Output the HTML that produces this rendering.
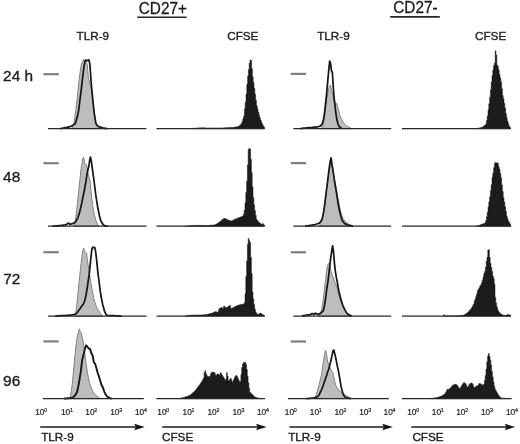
<!DOCTYPE html>
<html><head><meta charset="utf-8"><title>CD27 TLR-9 CFSE</title>
<style>
html,body{margin:0;padding:0;background:#fff;}
body{width:520px;height:444px;overflow:hidden;}
svg{display:block;font-family:"Liberation Sans",sans-serif;}
</style></head><body>
<svg width="520" height="444" viewBox="0 0 520 444">
<defs><filter id="bl" x="-5%" y="-5%" width="110%" height="110%"><feGaussianBlur stdDeviation="0.35"/></filter></defs>
<rect width="520" height="444" fill="#ffffff"/>
<g filter="url(#bl)">
<g>
<path d="M72.0 128.6 L72.9 126.6 L73.8 123.8 L74.7 118.2 L75.6 111.8 L76.5 104.4 L77.4 96.5 L78.3 87.8 L79.2 79.2 L80.1 72.3 L81.0 66.2 L81.9 63.0 L82.8 61.8 L83.7 59.2 L84.6 61.2 L85.5 59.0 L86.4 62.9 L87.3 64.5 L88.2 76.1 L89.1 81.1 L90.0 84.4 L90.9 85.9 L91.8 89.4 L92.7 98.7 L93.6 107.1 L94.5 114.7 L95.4 120.7 L96.3 124.8 L97.2 127.0 L98.1 128.0 L99.0 128.6 L99.0 128.6 Z" fill="#bdbdbd" stroke="#808080" stroke-width="1" stroke-linejoin="round"/>
<path d="M60.0 128.6 L60.9 128.5 L61.8 128.3 L62.7 128.2 L63.6 128.1 L64.5 127.9 L65.4 127.7 L66.3 127.5 L67.2 127.3 L68.1 127.1 L69.0 126.9 L69.9 126.7 L70.8 126.4 L71.7 125.9 L72.6 125.4 L73.5 124.8 L74.4 124.2 L75.3 123.8 L76.2 120.7 L77.1 117.5 L78.0 114.1 L78.9 108.5 L79.8 101.2 L80.7 94.1 L81.6 86.6 L82.5 78.6 L83.4 71.0 L84.3 64.5 L85.2 60.9 L86.1 60.6 L87.0 60.3 L87.9 60.7 L88.8 59.8 L89.7 63.0 L90.6 74.3 L91.5 86.7 L92.4 95.7 L93.3 104.5 L94.2 113.1 L95.1 118.6 L96.0 123.8 L96.9 124.8 L97.8 125.8 L98.7 126.6 L99.6 126.9 L100.5 127.2 L101.4 127.4 L102.3 127.7 L103.2 128.0 L104.1 128.1 L105.0 128.3 L105.9 128.4 L106.8 128.6 L107.0 128.6" fill="none" stroke="#121212" stroke-width="1.7" stroke-linejoin="round"/>
<line x1="48.0" y1="128.6" x2="146.4" y2="128.6" stroke="#262626" stroke-width="1.25"/>
<line x1="43.4" y1="74.2" x2="58.8" y2="74.2" stroke="#7e7e7e" stroke-width="2.2"/>
<path d="M190.0 128.6 L190.8 128.6 L190.8 128.5 L191.6 128.5 L191.6 128.5 L192.4 128.5 L192.4 128.4 L193.2 128.4 L193.2 128.3 L194.0 128.3 L194.0 128.3 L194.8 128.3 L194.8 128.2 L195.6 128.2 L195.6 128.2 L196.4 128.2 L196.4 128.1 L197.2 128.1 L197.2 128.0 L198.0 128.0 L198.0 128.0 L198.8 128.0 L198.8 127.9 L199.6 127.9 L199.6 127.8 L200.4 127.8 L200.4 127.8 L201.2 127.8 L201.2 127.8 L202.0 127.8 L202.0 127.8 L202.8 127.8 L202.8 127.8 L203.6 127.8 L203.6 127.8 L204.4 127.8 L204.4 127.8 L205.2 127.8 L205.2 127.9 L206.0 127.9 L206.0 127.9 L206.8 127.9 L206.8 127.9 L207.6 127.9 L207.6 127.9 L208.4 127.9 L208.4 127.9 L209.2 127.9 L209.2 127.9 L210.0 127.9 L210.0 127.9 L210.8 127.9 L210.8 127.9 L211.6 127.9 L211.6 127.9 L212.4 127.9 L212.4 127.9 L213.2 127.9 L213.2 127.9 L214.0 127.9 L214.0 127.9 L214.8 127.9 L214.8 127.9 L215.6 127.9 L215.6 127.9 L216.4 127.9 L216.4 128.0 L217.2 128.0 L217.2 128.0 L218.0 128.0 L218.0 128.0 L218.8 128.0 L218.8 128.0 L219.6 128.0 L219.6 128.0 L220.4 128.0 L220.4 128.0 L221.2 128.0 L221.2 127.9 L222.0 127.9 L222.0 127.9 L222.8 127.9 L222.8 127.9 L223.6 127.9 L223.6 127.8 L224.4 127.8 L224.4 127.8 L225.2 127.8 L225.2 127.7 L226.0 127.7 L226.0 127.7 L226.8 127.7 L226.8 127.7 L227.6 127.7 L227.6 127.6 L228.4 127.6 L228.4 127.6 L229.2 127.6 L229.2 127.5 L230.0 127.5 L230.0 127.5 L230.8 127.5 L230.8 127.5 L231.6 127.5 L231.6 127.4 L232.4 127.4 L232.4 127.4 L233.2 127.4 L233.2 127.3 L234.0 127.3 L234.0 127.2 L234.8 127.2 L234.8 127.1 L235.6 127.1 L235.6 127.0 L236.4 127.0 L236.4 126.9 L237.2 126.9 L237.2 126.7 L238.0 126.7 L238.0 126.4 L238.8 126.4 L238.8 126.1 L239.6 126.1 L239.6 125.5 L240.4 125.5 L240.4 124.4 L241.2 124.4 L241.2 123.4 L242.0 123.4 L242.0 121.5 L242.8 121.5 L242.8 118.8 L243.6 118.8 L243.6 116.0 L244.4 116.0 L244.4 108.8 L245.2 108.8 L245.2 102.2 L246.0 102.2 L246.0 94.1 L246.8 94.1 L246.8 84.3 L247.6 84.3 L247.6 76.1 L248.4 76.1 L248.4 69.5 L249.2 69.5 L249.2 63.1 L250.0 63.1 L250.0 60.0 L250.8 60.0 L250.8 60.4 L251.6 60.4 L251.6 68.8 L252.4 68.8 L252.4 76.7 L253.2 76.7 L253.2 82.5 L254.0 82.5 L254.0 88.3 L254.8 88.3 L254.8 94.0 L255.6 94.0 L255.6 100.2 L256.4 100.2 L256.4 105.4 L257.2 105.4 L257.2 108.7 L258.0 108.7 L258.0 112.0 L258.8 112.0 L258.8 115.0 L259.6 115.0 L259.6 117.8 L260.4 117.8 L260.4 120.0 L261.2 120.0 L261.2 122.3 L262.0 122.3 L262.0 124.1 L262.8 124.1 L262.8 125.7 L263.6 125.7 L263.6 127.0 L264.4 127.0 L264.5 128.6 Z" fill="#1a1a1a" stroke="#1a1a1a" stroke-width="0.5" stroke-linejoin="miter"/>
<line x1="156.5" y1="128.6" x2="264.7" y2="128.6" stroke="#262626" stroke-width="1.25"/>
<path d="M321.3 128.6 L322.2 126.4 L323.1 124.2 L324.0 119.4 L324.9 114.0 L325.8 106.6 L326.7 98.9 L327.6 94.5 L328.5 89.5 L329.4 86.5 L330.3 85.0 L331.2 88.5 L332.1 92.3 L333.0 96.4 L333.9 101.0 L334.8 101.5 L335.7 102.9 L336.6 103.4 L337.5 106.7 L338.4 109.3 L339.3 113.2 L340.2 116.2 L341.1 118.1 L342.0 119.9 L342.9 121.9 L343.8 122.9 L344.7 123.7 L345.6 124.7 L346.5 125.5 L347.4 126.2 L348.3 126.7 L349.2 127.2 L350.1 127.8 L351.0 128.3 L351.5 128.6 Z" fill="#bdbdbd" stroke="#808080" stroke-width="1" stroke-linejoin="round"/>
<path d="M300.0 128.6 L300.9 128.5 L301.8 128.4 L302.7 128.3 L303.6 128.2 L304.5 128.1 L305.4 128.0 L306.3 127.9 L307.2 127.8 L308.1 127.8 L309.0 127.7 L309.9 127.6 L310.8 127.6 L311.7 127.5 L312.6 127.4 L313.5 127.3 L314.4 127.2 L315.3 127.1 L316.2 127.0 L317.1 126.9 L318.0 126.8 L318.9 126.5 L319.8 126.1 L320.7 125.7 L321.6 124.6 L322.5 123.2 L323.4 119.6 L324.3 115.0 L325.2 106.9 L326.1 99.1 L327.0 89.3 L327.9 79.4 L328.8 69.7 L329.7 61.1 L330.6 63.8 L331.5 71.0 L332.4 72.7 L333.3 87.7 L334.2 98.7 L335.1 106.7 L336.0 114.3 L336.9 119.5 L337.8 123.3 L338.7 125.7 L339.6 126.9 L340.5 127.6 L341.4 128.2 L342.0 128.6" fill="none" stroke="#121212" stroke-width="1.7" stroke-linejoin="round"/>
<line x1="293.4" y1="128.6" x2="391.2" y2="128.6" stroke="#262626" stroke-width="1.25"/>
<line x1="290.8" y1="73.9" x2="306.0" y2="73.9" stroke="#7e7e7e" stroke-width="2.2"/>
<path d="M476.0 128.6 L476.8 128.6 L476.8 128.4 L477.6 128.4 L477.6 128.3 L478.4 128.3 L478.4 128.1 L479.2 128.1 L479.2 128.0 L480.0 128.0 L480.0 127.8 L480.8 127.8 L480.8 127.5 L481.6 127.5 L481.6 127.3 L482.4 127.3 L482.4 127.0 L483.2 127.0 L483.2 126.6 L484.0 126.6 L484.0 125.8 L484.8 125.8 L484.8 125.0 L485.6 125.0 L485.6 124.2 L486.4 124.2 L486.4 120.5 L487.2 120.5 L487.2 115.9 L488.0 115.9 L488.0 109.9 L488.8 109.9 L488.8 103.8 L489.6 103.8 L489.6 97.3 L490.4 97.3 L490.4 89.7 L491.2 89.7 L491.2 82.1 L492.0 82.1 L492.0 75.4 L492.8 75.4 L492.8 70.1 L493.6 70.1 L493.6 65.4 L494.4 65.4 L494.4 63.2 L495.2 63.2 L495.2 50.9 L496.0 50.9 L496.0 55.0 L496.8 55.0 L496.8 65.1 L497.6 65.1 L497.6 66.4 L498.4 66.4 L498.4 70.0 L499.2 70.0 L499.2 74.5 L500.0 74.5 L500.0 78.1 L500.8 78.1 L500.8 81.9 L501.6 81.9 L501.6 88.8 L502.4 88.8 L502.4 95.5 L503.2 95.5 L503.2 98.8 L504.0 98.8 L504.0 103.3 L504.8 103.3 L504.8 108.0 L505.6 108.0 L505.6 113.4 L506.4 113.4 L506.4 117.7 L507.2 117.7 L507.2 121.1 L508.0 121.1 L508.0 123.6 L508.8 123.6 L508.8 125.9 L509.6 125.9 L509.6 127.3 L510.4 127.3 L510.5 128.6 Z" fill="#1a1a1a" stroke="#1a1a1a" stroke-width="0.5" stroke-linejoin="miter"/>
<line x1="402.0" y1="128.6" x2="511.0" y2="128.6" stroke="#262626" stroke-width="1.25"/>
<path d="M73.8 226.2 L74.7 223.0 L75.6 218.8 L76.5 212.1 L77.4 203.6 L78.3 195.0 L79.2 186.0 L80.1 177.8 L81.0 169.9 L81.9 163.6 L82.8 159.1 L83.7 157.1 L84.6 163.6 L85.5 164.1 L86.4 164.3 L87.3 168.5 L88.2 174.1 L89.1 177.3 L90.0 180.0 L90.9 189.7 L91.8 198.3 L92.7 205.2 L93.6 211.2 L94.5 215.5 L95.4 219.0 L96.3 221.6 L97.2 223.8 L98.1 225.0 L99.0 226.2 L99.0 226.2 Z" fill="#bdbdbd" stroke="#808080" stroke-width="1" stroke-linejoin="round"/>
<path d="M52.7 226.2 L53.6 226.1 L54.5 226.1 L55.4 226.0 L56.3 225.9 L57.2 225.8 L58.1 225.8 L59.0 225.7 L59.9 225.6 L60.8 225.5 L61.7 225.4 L62.6 225.3 L63.5 225.1 L64.4 225.0 L65.3 224.9 L66.2 224.6 L67.1 224.0 L68.0 223.2 L68.9 223.3 L69.8 224.3 L70.7 224.1 L71.6 223.8 L72.5 223.6 L73.4 223.2 L74.3 222.7 L75.2 222.2 L76.1 221.0 L77.0 219.4 L77.9 217.5 L78.8 214.9 L79.7 212.0 L80.6 208.1 L81.5 204.3 L82.4 199.8 L83.3 195.2 L84.2 191.1 L85.1 186.0 L86.0 181.2 L86.9 175.0 L87.8 170.0 L88.7 167.0 L89.6 160.8 L90.5 157.0 L91.4 161.6 L92.3 168.4 L93.2 174.8 L94.1 181.3 L95.0 188.8 L95.9 195.8 L96.8 201.7 L97.7 207.0 L98.6 211.8 L99.5 216.0 L100.4 219.6 L101.3 221.6 L102.2 223.4 L103.1 224.5 L104.0 225.2 L104.9 225.7 L105.8 225.8 L106.7 226.0 L107.6 226.1 L108.0 226.2" fill="none" stroke="#121212" stroke-width="1.7" stroke-linejoin="round"/>
<line x1="48.0" y1="226.2" x2="146.4" y2="226.2" stroke="#262626" stroke-width="1.25"/>
<line x1="43.4" y1="163.2" x2="58.8" y2="163.2" stroke="#7e7e7e" stroke-width="2.2"/>
<path d="M185.0 226.2 L185.8 226.2 L185.8 226.1 L186.6 226.1 L186.6 226.1 L187.4 226.1 L187.4 226.0 L188.2 226.0 L188.2 225.9 L189.0 225.9 L189.0 225.9 L189.8 225.9 L189.8 225.8 L190.6 225.8 L190.6 225.8 L191.4 225.8 L191.4 225.7 L192.2 225.7 L192.2 225.6 L193.0 225.6 L193.0 225.6 L193.8 225.6 L193.8 225.5 L194.6 225.5 L194.6 225.4 L195.4 225.4 L195.4 225.4 L196.2 225.4 L196.2 225.4 L197.0 225.4 L197.0 225.4 L197.8 225.4 L197.8 225.4 L198.6 225.4 L198.6 225.4 L199.4 225.4 L199.4 225.4 L200.2 225.4 L200.2 225.4 L201.0 225.4 L201.0 225.5 L201.8 225.5 L201.8 225.4 L202.6 225.4 L202.6 225.4 L203.4 225.4 L203.4 225.5 L204.2 225.5 L204.2 225.5 L205.0 225.5 L205.0 225.5 L205.8 225.5 L205.8 225.5 L206.6 225.5 L206.6 225.5 L207.4 225.5 L207.4 225.5 L208.2 225.5 L208.2 225.5 L209.0 225.5 L209.0 225.4 L209.8 225.4 L209.8 225.3 L210.6 225.3 L210.6 225.2 L211.4 225.2 L211.4 225.2 L212.2 225.2 L212.2 225.1 L213.0 225.1 L213.0 225.0 L213.8 225.0 L213.8 224.9 L214.6 224.9 L214.6 224.7 L215.4 224.7 L215.4 224.5 L216.2 224.5 L216.2 224.1 L217.0 224.1 L217.0 223.5 L217.8 223.5 L217.8 223.0 L218.6 223.0 L218.6 222.5 L219.4 222.5 L219.4 222.0 L220.2 222.0 L220.2 221.2 L221.0 221.2 L221.0 220.6 L221.8 220.6 L221.8 219.7 L222.6 219.7 L222.6 219.2 L223.4 219.2 L223.4 218.7 L224.2 218.7 L224.2 218.6 L225.0 218.6 L225.0 218.5 L225.8 218.5 L225.8 219.0 L226.6 219.0 L226.6 219.4 L227.4 219.4 L227.4 219.9 L228.2 219.9 L228.2 220.2 L229.0 220.2 L229.0 220.5 L229.8 220.5 L229.8 220.6 L230.6 220.6 L230.6 221.1 L231.4 221.1 L231.4 221.1 L232.2 221.1 L232.2 220.6 L233.0 220.6 L233.0 220.2 L233.8 220.2 L233.8 219.7 L234.6 219.7 L234.6 219.2 L235.4 219.2 L235.4 219.1 L236.2 219.1 L236.2 218.4 L237.0 218.4 L237.0 218.4 L237.8 218.4 L237.8 217.9 L238.6 217.9 L238.6 217.6 L239.4 217.6 L239.4 217.4 L240.2 217.4 L240.2 217.1 L241.0 217.1 L241.0 216.8 L241.8 216.8 L241.8 216.5 L242.6 216.5 L242.6 215.9 L243.4 215.9 L243.4 213.9 L244.2 213.9 L244.2 210.1 L245.0 210.1 L245.0 202.7 L245.8 202.7 L245.8 192.6 L246.6 192.6 L246.6 181.2 L247.4 181.2 L247.4 164.9 L248.2 164.9 L248.2 149.6 L249.0 149.6 L249.0 148.4 L249.8 148.4 L249.8 149.1 L250.6 149.1 L250.6 159.5 L251.4 159.5 L251.4 172.6 L252.2 172.6 L252.2 187.1 L253.0 187.1 L253.0 197.5 L253.8 197.5 L253.8 204.8 L254.6 204.8 L254.6 210.4 L255.4 210.4 L255.4 215.2 L256.2 215.2 L256.2 219.3 L257.0 219.3 L257.0 220.5 L257.8 220.5 L257.8 221.5 L258.6 221.5 L258.6 222.4 L259.4 222.4 L259.4 223.1 L260.2 223.1 L260.2 223.8 L261.0 223.8 L261.0 224.5 L261.8 224.5 L261.8 223.8 L262.6 223.8 L262.6 223.8 L263.4 223.8 L263.4 224.7 L264.2 224.7 L264.7 226.2 Z" fill="#1a1a1a" stroke="#1a1a1a" stroke-width="0.5" stroke-linejoin="miter"/>
<line x1="156.5" y1="226.2" x2="264.7" y2="226.2" stroke="#262626" stroke-width="1.25"/>
<path d="M319.0 226.2 L319.9 224.7 L320.8 223.2 L321.7 221.2 L322.6 217.6 L323.5 214.1 L324.4 207.2 L325.3 199.7 L326.2 193.3 L327.1 186.5 L328.0 178.9 L328.9 171.8 L329.8 168.9 L330.7 163.7 L331.6 164.8 L332.5 169.2 L333.4 173.5 L334.3 178.9 L335.2 182.3 L336.1 187.5 L337.0 192.7 L337.9 198.1 L338.8 202.7 L339.7 207.3 L340.6 210.9 L341.5 214.2 L342.4 217.1 L343.3 218.6 L344.2 219.9 L345.1 221.4 L346.0 222.3 L346.9 222.9 L347.8 223.4 L348.7 224.0 L349.6 224.6 L350.5 225.0 L351.4 225.4 L352.3 225.9 L353.0 226.2 Z" fill="#bdbdbd" stroke="#808080" stroke-width="1" stroke-linejoin="round"/>
<path d="M305.0 226.2 L305.9 226.1 L306.8 225.9 L307.7 225.8 L308.6 225.7 L309.5 225.6 L310.4 225.4 L311.3 225.3 L312.2 225.1 L313.1 224.9 L314.0 224.8 L314.9 224.6 L315.8 224.3 L316.7 224.0 L317.6 223.7 L318.5 223.3 L319.4 223.1 L320.3 221.9 L321.2 220.6 L322.1 219.3 L323.0 215.1 L323.9 210.1 L324.8 203.8 L325.7 196.1 L326.6 188.9 L327.5 182.2 L328.4 174.7 L329.3 167.7 L330.2 161.2 L331.1 157.9 L332.0 164.4 L332.9 169.6 L333.8 176.0 L334.7 182.5 L335.6 187.7 L336.5 192.9 L337.4 198.8 L338.3 204.6 L339.2 209.1 L340.1 213.3 L341.0 216.6 L341.9 219.7 L342.8 221.2 L343.7 222.4 L344.6 223.6 L345.5 223.9 L346.4 224.3 L347.3 224.7 L348.2 225.1 L349.1 225.3 L350.0 225.5 L350.9 225.7 L351.8 225.9 L352.7 226.1 L353.0 226.2" fill="none" stroke="#121212" stroke-width="1.7" stroke-linejoin="round"/>
<line x1="293.4" y1="226.2" x2="391.2" y2="226.2" stroke="#262626" stroke-width="1.25"/>
<line x1="290.8" y1="163.1" x2="306.0" y2="163.1" stroke="#7e7e7e" stroke-width="2.2"/>
<path d="M476.0 226.2 L476.8 226.2 L476.8 226.0 L477.6 226.0 L477.6 225.8 L478.4 225.8 L478.4 225.6 L479.2 225.6 L479.2 225.3 L480.0 225.3 L480.0 224.9 L480.8 224.9 L480.8 224.5 L481.6 224.5 L481.6 224.2 L482.4 224.2 L482.4 223.9 L483.2 223.9 L483.2 223.7 L484.0 223.7 L484.0 223.4 L484.8 223.4 L484.8 223.0 L485.6 223.0 L485.6 220.8 L486.4 220.8 L486.4 216.8 L487.2 216.8 L487.2 212.3 L488.0 212.3 L488.0 207.0 L488.8 207.0 L488.8 201.9 L489.6 201.9 L489.6 196.9 L490.4 196.9 L490.4 190.5 L491.2 190.5 L491.2 184.7 L492.0 184.7 L492.0 177.4 L492.8 177.4 L492.8 173.0 L493.6 173.0 L493.6 167.8 L494.4 167.8 L494.4 163.6 L495.2 163.6 L495.2 162.5 L496.0 162.5 L496.0 162.8 L496.8 162.8 L496.8 163.0 L497.6 163.0 L497.6 163.2 L498.4 163.2 L498.4 166.7 L499.2 166.7 L499.2 169.3 L500.0 169.3 L500.0 173.2 L500.8 173.2 L500.8 177.8 L501.6 177.8 L501.6 184.9 L502.4 184.9 L502.4 191.5 L503.2 191.5 L503.2 197.7 L504.0 197.7 L504.0 202.0 L504.8 202.0 L504.8 206.7 L505.6 206.7 L505.6 211.2 L506.4 211.2 L506.4 215.9 L507.2 215.9 L507.2 218.5 L508.0 218.5 L508.0 221.0 L508.8 221.0 L508.8 222.3 L509.6 222.3 L509.6 223.8 L510.4 223.8 L511.0 226.2 Z" fill="#1a1a1a" stroke="#1a1a1a" stroke-width="0.5" stroke-linejoin="miter"/>
<line x1="402.0" y1="226.2" x2="511.0" y2="226.2" stroke="#262626" stroke-width="1.25"/>
<path d="M74.8 316.0 L75.7 312.6 L76.6 306.5 L77.5 298.5 L78.4 289.0 L79.3 280.3 L80.2 271.9 L81.1 263.4 L82.0 256.5 L82.9 250.2 L83.8 248.2 L84.7 251.9 L85.6 252.6 L86.5 253.0 L87.4 260.3 L88.3 265.6 L89.2 272.2 L90.1 277.8 L91.0 283.8 L91.9 288.7 L92.8 293.4 L93.7 298.0 L94.6 301.5 L95.5 304.0 L96.4 306.5 L97.3 308.7 L98.2 310.1 L99.1 311.5 L100.0 313.1 L100.9 314.1 L101.8 315.1 L102.5 316.0 Z" fill="#bdbdbd" stroke="#808080" stroke-width="1" stroke-linejoin="round"/>
<path d="M55.0 316.0 L55.9 316.0 L56.8 315.9 L57.7 315.9 L58.6 315.8 L59.5 315.8 L60.4 315.7 L61.3 315.7 L62.2 315.6 L63.1 315.6 L64.0 315.5 L64.9 315.5 L65.8 315.4 L66.7 315.4 L67.6 315.3 L68.5 315.3 L69.4 315.2 L70.3 315.1 L71.2 315.1 L72.1 315.0 L73.0 314.7 L73.9 314.5 L74.8 314.2 L75.7 313.8 L76.6 313.1 L77.5 312.3 L78.4 310.9 L79.3 309.6 L80.2 308.4 L81.1 307.1 L82.0 305.7 L82.9 304.8 L83.8 303.2 L84.7 300.7 L85.6 297.0 L86.5 292.4 L87.4 286.7 L88.3 280.1 L89.2 274.2 L90.1 265.8 L91.0 256.8 L91.9 248.9 L92.8 247.2 L93.7 247.7 L94.6 247.3 L95.5 250.6 L96.4 257.8 L97.3 266.6 L98.2 275.4 L99.1 281.5 L100.0 289.1 L100.9 295.5 L101.8 300.1 L102.7 304.4 L103.6 307.6 L104.5 311.2 L105.4 313.2 L106.3 314.7 L107.2 315.3 L108.1 315.5 L109.0 315.5 L109.9 315.6 L110.8 315.6 L111.7 315.6 L112.6 315.7 L113.5 315.7 L114.4 315.7 L115.3 315.8 L116.2 315.8 L117.1 315.8 L118.0 315.9 L118.9 315.9 L119.8 315.9 L120.7 316.0 L121.6 316.0 L122.0 316.0" fill="none" stroke="#121212" stroke-width="1.7" stroke-linejoin="round"/>
<line x1="48.0" y1="316.0" x2="146.4" y2="316.0" stroke="#262626" stroke-width="1.25"/>
<line x1="43.4" y1="252.2" x2="58.8" y2="252.2" stroke="#7e7e7e" stroke-width="2.2"/>
<path d="M185.0 316.0 L185.8 316.0 L185.8 315.9 L186.6 315.9 L186.6 315.7 L187.4 315.7 L187.4 315.6 L188.2 315.6 L188.2 315.5 L189.0 315.5 L189.0 315.4 L189.8 315.4 L189.8 315.2 L190.6 315.2 L190.6 315.2 L191.4 315.2 L191.4 315.2 L192.2 315.2 L192.2 315.2 L193.0 315.2 L193.0 315.1 L193.8 315.1 L193.8 315.1 L194.6 315.1 L194.6 315.1 L195.4 315.1 L195.4 315.1 L196.2 315.1 L196.2 315.1 L197.0 315.1 L197.0 315.1 L197.8 315.1 L197.8 315.1 L198.6 315.1 L198.6 315.0 L199.4 315.0 L199.4 315.0 L200.2 315.0 L200.2 315.0 L201.0 315.0 L201.0 314.9 L201.8 314.9 L201.8 314.9 L202.6 314.9 L202.6 314.8 L203.4 314.8 L203.4 314.8 L204.2 314.8 L204.2 314.7 L205.0 314.7 L205.0 314.6 L205.8 314.6 L205.8 314.6 L206.6 314.6 L206.6 314.4 L207.4 314.4 L207.4 314.3 L208.2 314.3 L208.2 314.0 L209.0 314.0 L209.0 313.9 L209.8 313.9 L209.8 313.6 L210.6 313.6 L210.6 313.4 L211.4 313.4 L211.4 313.2 L212.2 313.2 L212.2 313.0 L213.0 313.0 L213.0 312.6 L213.8 312.6 L213.8 312.2 L214.6 312.2 L214.6 311.7 L215.4 311.7 L215.4 311.7 L216.2 311.7 L216.2 312.0 L217.0 312.0 L217.0 312.4 L217.8 312.4 L217.8 311.8 L218.6 311.8 L218.6 309.7 L219.4 309.7 L219.4 308.2 L220.2 308.2 L220.2 308.0 L221.0 308.0 L221.0 307.5 L221.8 307.5 L221.8 308.1 L222.6 308.1 L222.6 308.4 L223.4 308.4 L223.4 306.5 L224.2 306.5 L224.2 306.3 L225.0 306.3 L225.0 307.4 L225.8 307.4 L225.8 307.4 L226.6 307.4 L226.6 307.3 L227.4 307.3 L227.4 307.0 L228.2 307.0 L228.2 306.4 L229.0 306.4 L229.0 305.5 L229.8 305.5 L229.8 305.7 L230.6 305.7 L230.6 308.5 L231.4 308.5 L231.4 308.2 L232.2 308.2 L232.2 308.0 L233.0 308.0 L233.0 307.5 L233.8 307.5 L233.8 307.2 L234.6 307.2 L234.6 306.6 L235.4 306.6 L235.4 306.3 L236.2 306.3 L236.2 305.9 L237.0 305.9 L237.0 305.4 L237.8 305.4 L237.8 305.3 L238.6 305.3 L238.6 305.1 L239.4 305.1 L239.4 304.8 L240.2 304.8 L240.2 304.7 L241.0 304.7 L241.0 304.3 L241.8 304.3 L241.8 304.4 L242.6 304.4 L242.6 304.2 L243.4 304.2 L243.4 304.0 L244.2 304.0 L244.2 302.7 L245.0 302.7 L245.0 293.7 L245.8 293.7 L245.8 276.4 L246.6 276.4 L246.6 261.0 L247.4 261.0 L247.4 244.5 L248.2 244.5 L248.2 238.6 L249.0 238.6 L249.0 240.6 L249.8 240.6 L249.8 242.8 L250.6 242.8 L250.6 257.3 L251.4 257.3 L251.4 273.6 L252.2 273.6 L252.2 291.9 L253.0 291.9 L253.0 299.1 L253.8 299.1 L253.8 304.6 L254.6 304.6 L254.6 309.1 L255.4 309.1 L255.4 311.9 L256.2 311.9 L256.2 313.6 L257.0 313.6 L257.0 314.0 L257.8 314.0 L257.8 314.4 L258.6 314.4 L258.6 314.1 L259.4 314.1 L259.4 313.5 L260.2 313.5 L260.2 313.1 L261.0 313.1 L261.0 313.7 L261.8 313.7 L261.8 314.4 L262.6 314.4 L262.6 314.8 L263.4 314.8 L263.4 315.3 L264.2 315.3 L264.7 316.0 Z" fill="#1a1a1a" stroke="#1a1a1a" stroke-width="0.5" stroke-linejoin="miter"/>
<line x1="156.5" y1="316.0" x2="264.7" y2="316.0" stroke="#262626" stroke-width="1.25"/>
<path d="M318.5 316.0 L319.4 314.6 L320.3 313.1 L321.2 311.2 L322.1 306.9 L323.0 301.2 L323.9 293.6 L324.8 286.5 L325.7 279.0 L326.6 270.4 L327.5 266.0 L328.4 263.6 L329.3 263.8 L330.2 267.7 L331.1 271.7 L332.0 274.3 L332.9 276.4 L333.8 279.0 L334.7 281.5 L335.6 283.4 L336.5 286.6 L337.4 288.6 L338.3 292.3 L339.2 295.9 L340.1 299.4 L341.0 302.1 L341.9 304.2 L342.8 306.6 L343.7 308.3 L344.6 310.1 L345.5 311.6 L346.4 312.4 L347.3 313.3 L348.2 314.1 L349.1 314.6 L350.0 315.1 L350.9 315.7 L351.5 316.0 Z" fill="#bdbdbd" stroke="#808080" stroke-width="1" stroke-linejoin="round"/>
<path d="M302.0 316.0 L302.9 315.8 L303.8 315.6 L304.7 315.5 L305.6 315.3 L306.5 315.1 L307.4 315.0 L308.3 314.9 L309.2 314.8 L310.1 314.6 L311.0 314.5 L311.9 313.5 L312.8 313.7 L313.7 314.6 L314.6 314.0 L315.5 313.2 L316.4 313.7 L317.3 314.4 L318.2 314.2 L319.1 313.9 L320.0 313.7 L320.9 313.1 L321.8 312.1 L322.7 311.1 L323.6 310.2 L324.5 305.6 L325.4 299.6 L326.3 292.8 L327.2 286.2 L328.1 280.3 L329.0 272.9 L329.9 264.5 L330.8 257.4 L331.7 251.4 L332.6 245.9 L333.5 251.5 L334.4 262.6 L335.3 270.9 L336.2 276.5 L337.1 281.2 L338.0 286.4 L338.9 291.5 L339.8 294.7 L340.7 298.5 L341.6 301.5 L342.5 304.3 L343.4 306.7 L344.3 308.7 L345.2 310.4 L346.1 311.9 L347.0 313.2 L347.9 314.2 L348.8 314.7 L349.7 315.1 L350.6 315.5 L351.5 316.0 L351.5 316.0" fill="none" stroke="#121212" stroke-width="1.7" stroke-linejoin="round"/>
<line x1="293.4" y1="316.0" x2="391.2" y2="316.0" stroke="#262626" stroke-width="1.25"/>
<line x1="290.8" y1="252.3" x2="306.0" y2="252.3" stroke="#7e7e7e" stroke-width="2.2"/>
<path d="M443.0 316.0 L443.8 316.0 L443.8 314.8 L444.6 314.8 L444.6 316.0 L445.4 316.0 L445.4 316.0 L446.2 316.0 L446.2 316.0 L447.0 316.0 L447.0 316.0 L447.8 316.0 L447.8 316.0 L448.6 316.0 L448.6 316.0 L449.4 316.0 L449.4 316.0 L450.2 316.0 L450.2 316.0 L451.0 316.0 L451.0 316.0 L451.8 316.0 L451.8 316.0 L452.6 316.0 L452.6 316.0 L453.4 316.0 L453.4 316.0 L454.2 316.0 L454.2 316.0 L455.0 316.0 L455.0 316.0 L455.8 316.0 L455.8 316.0 L456.6 316.0 L456.6 315.9 L457.4 315.9 L457.4 315.8 L458.2 315.8 L458.2 315.8 L459.0 315.8 L459.0 315.7 L459.8 315.7 L459.8 315.6 L460.6 315.6 L460.6 315.5 L461.4 315.5 L461.4 315.4 L462.2 315.4 L462.2 315.3 L463.0 315.3 L463.0 315.2 L463.8 315.2 L463.8 314.9 L464.6 314.9 L464.6 314.4 L465.4 314.4 L465.4 313.9 L466.2 313.9 L466.2 313.4 L467.0 313.4 L467.0 312.9 L467.8 312.9 L467.8 312.0 L468.6 312.0 L468.6 311.2 L469.4 311.2 L469.4 310.2 L470.2 310.2 L470.2 309.4 L471.0 309.4 L471.0 308.6 L471.8 308.6 L471.8 307.0 L472.6 307.0 L472.6 305.5 L473.4 305.5 L473.4 303.9 L474.2 303.9 L474.2 300.7 L475.0 300.7 L475.0 298.9 L475.8 298.9 L475.8 296.4 L476.6 296.4 L476.6 293.7 L477.4 293.7 L477.4 290.6 L478.2 290.6 L478.2 289.2 L479.0 289.2 L479.0 287.8 L479.8 287.8 L479.8 285.7 L480.6 285.7 L480.6 284.9 L481.4 284.9 L481.4 282.7 L482.2 282.7 L482.2 280.1 L483.0 280.1 L483.0 277.1 L483.8 277.1 L483.8 273.6 L484.6 273.6 L484.6 271.4 L485.4 271.4 L485.4 267.1 L486.2 267.1 L486.2 261.2 L487.0 261.2 L487.0 257.2 L487.8 257.2 L487.8 249.9 L488.6 249.9 L488.6 249.7 L489.4 249.7 L489.4 257.4 L490.2 257.4 L490.2 263.2 L491.0 263.2 L491.0 267.5 L491.8 267.5 L491.8 271.4 L492.6 271.4 L492.6 275.9 L493.4 275.9 L493.4 278.9 L494.2 278.9 L494.2 284.3 L495.0 284.3 L495.0 297.4 L495.8 297.4 L495.8 303.2 L496.6 303.2 L496.6 306.8 L497.4 306.8 L497.4 309.5 L498.2 309.5 L498.2 311.4 L499.0 311.4 L499.0 312.4 L499.8 312.4 L499.8 313.4 L500.6 313.4 L500.6 314.0 L501.4 314.0 L501.4 314.6 L502.2 314.6 L502.2 315.0 L503.0 315.0 L503.0 315.2 L503.8 315.2 L503.8 315.3 L504.6 315.3 L504.6 315.4 L505.4 315.4 L505.4 315.4 L506.2 315.4 L506.2 315.1 L507.0 315.1 L507.0 314.8 L507.8 314.8 L507.8 314.5 L508.6 314.5 L508.6 314.8 L509.4 314.8 L509.4 315.2 L510.2 315.2 L510.2 315.6 L511.0 315.6 L511.0 316.0 Z" fill="#1a1a1a" stroke="#1a1a1a" stroke-width="0.5" stroke-linejoin="miter"/>
<line x1="402.0" y1="316.0" x2="511.0" y2="316.0" stroke="#262626" stroke-width="1.25"/>
<path d="M69.5 398.6 L70.4 395.8 L71.3 391.7 L72.2 384.6 L73.1 375.5 L74.0 365.8 L74.9 356.1 L75.8 347.3 L76.7 340.2 L77.6 335.2 L78.5 332.1 L79.4 328.8 L80.3 331.9 L81.2 332.8 L82.1 337.0 L83.0 340.5 L83.9 346.9 L84.8 353.3 L85.7 360.8 L86.6 366.8 L87.5 373.1 L88.4 377.4 L89.3 382.1 L90.2 384.8 L91.1 387.4 L92.0 389.5 L92.9 391.6 L93.8 393.1 L94.7 394.1 L95.6 395.0 L96.5 396.0 L97.4 396.7 L98.3 397.3 L99.2 398.0 L100.0 398.6 Z" fill="#bdbdbd" stroke="#808080" stroke-width="1" stroke-linejoin="round"/>
<path d="M64.0 398.6 L65.3 398.5 L66.6 398.4 L67.9 398.3 L69.2 398.3 L70.5 398.1 L71.8 397.7 L73.1 397.3 L74.4 396.0 L75.7 394.7 L77.0 392.0 L78.3 386.5 L79.6 379.1 L80.9 370.8 L82.2 359.9 L83.5 354.8 L84.8 349.4 L86.1 345.3 L87.4 346.7 L88.7 348.5 L90.0 348.9 L91.3 353.0 L92.6 355.7 L93.9 362.2 L95.2 364.0 L96.5 368.5 L97.8 373.2 L99.1 376.9 L100.4 381.2 L101.7 385.5 L103.0 387.8 L104.3 391.8 L105.6 394.4 L106.9 396.1 L108.2 397.3 L109.5 397.9 L110.8 398.3 L112.0 398.6" fill="none" stroke="#121212" stroke-width="1.9" stroke-linejoin="round"/>
<line x1="43.0" y1="398.6" x2="143.8" y2="398.6" stroke="#262626" stroke-width="1.25"/>
<line x1="43.4" y1="341.4" x2="58.8" y2="341.4" stroke="#7e7e7e" stroke-width="2.2"/>
<path d="M177.7 398.6 L178.5 398.6 L178.5 398.5 L179.3 398.5 L179.3 398.3 L180.1 398.3 L180.1 398.2 L180.9 398.2 L180.9 398.0 L181.7 398.0 L181.7 397.8 L182.5 397.8 L182.5 397.6 L183.3 397.6 L183.3 397.4 L184.1 397.4 L184.1 397.2 L184.9 397.2 L184.9 396.9 L185.7 396.9 L185.7 396.7 L186.5 396.7 L186.5 396.4 L187.3 396.4 L187.3 396.2 L188.1 396.2 L188.1 395.9 L188.9 395.9 L188.9 395.6 L189.7 395.6 L189.7 395.3 L190.5 395.3 L190.5 394.6 L191.3 394.6 L191.3 393.9 L192.1 393.9 L192.1 393.2 L192.9 393.2 L192.9 392.6 L193.7 392.6 L193.7 391.9 L194.5 391.9 L194.5 391.1 L195.3 391.1 L195.3 390.1 L196.1 390.1 L196.1 388.9 L196.9 388.9 L196.9 387.8 L197.7 387.8 L197.7 386.8 L198.5 386.8 L198.5 385.8 L199.3 385.8 L199.3 384.8 L200.1 384.8 L200.1 383.6 L200.9 383.6 L200.9 382.4 L201.7 382.4 L201.7 381.2 L202.5 381.2 L202.5 379.7 L203.3 379.7 L203.3 378.1 L204.1 378.1 L204.1 372.6 L204.9 372.6 L204.9 370.7 L205.7 370.7 L205.7 373.5 L206.5 373.5 L206.5 375.4 L207.3 375.4 L207.3 376.4 L208.1 376.4 L208.1 376.8 L208.9 376.8 L208.9 376.6 L209.7 376.6 L209.7 376.3 L210.5 376.3 L210.5 373.7 L211.3 373.7 L211.3 372.4 L212.1 372.4 L212.1 372.2 L212.9 372.2 L212.9 372.1 L213.7 372.1 L213.7 372.5 L214.5 372.5 L214.5 373.2 L215.3 373.2 L215.3 375.4 L216.1 375.4 L216.1 375.2 L216.9 375.2 L216.9 374.1 L217.7 374.1 L217.7 374.0 L218.5 374.0 L218.5 374.8 L219.3 374.8 L219.3 375.3 L220.1 375.3 L220.1 372.8 L220.9 372.8 L220.9 373.6 L221.7 373.6 L221.7 375.1 L222.5 375.1 L222.5 376.4 L223.3 376.4 L223.3 377.4 L224.1 377.4 L224.1 379.0 L224.9 379.0 L224.9 381.1 L225.7 381.1 L225.7 379.0 L226.5 379.0 L226.5 372.7 L227.3 372.7 L227.3 376.1 L228.1 376.1 L228.1 380.6 L228.9 380.6 L228.9 381.0 L229.7 381.0 L229.7 379.1 L230.5 379.1 L230.5 378.5 L231.3 378.5 L231.3 380.5 L232.1 380.5 L232.1 382.5 L232.9 382.5 L232.9 380.8 L233.7 380.8 L233.7 378.9 L234.5 378.9 L234.5 377.1 L235.3 377.1 L235.3 375.9 L236.1 375.9 L236.1 375.5 L236.9 375.5 L236.9 376.5 L237.7 376.5 L237.7 378.3 L238.5 378.3 L238.5 380.2 L239.3 380.2 L239.3 382.2 L240.1 382.2 L240.1 381.5 L240.9 381.5 L240.9 374.6 L241.7 374.6 L241.7 367.5 L242.5 367.5 L242.5 364.1 L243.3 364.1 L243.3 362.5 L244.1 362.5 L244.1 362.5 L244.9 362.5 L244.9 362.3 L245.7 362.3 L245.7 364.3 L246.5 364.3 L246.5 369.4 L247.3 369.4 L247.3 376.2 L248.1 376.2 L248.1 382.7 L248.9 382.7 L248.9 388.4 L249.7 388.4 L249.7 392.5 L250.5 392.5 L250.5 393.1 L251.3 393.1 L251.3 394.0 L252.1 394.0 L252.1 394.8 L252.9 394.8 L252.9 395.6 L253.7 395.6 L253.7 396.4 L254.5 396.4 L254.5 397.0 L255.3 397.0 L255.3 397.3 L256.1 397.3 L256.1 397.6 L256.9 397.6 L256.9 397.9 L257.7 397.9 L257.7 398.0 L258.5 398.0 L258.5 398.1 L259.3 398.1 L259.3 398.3 L260.1 398.3 L260.1 398.4 L260.9 398.4 L260.9 398.5 L261.7 398.5 L262.0 398.6 Z" fill="#1a1a1a" stroke="#1a1a1a" stroke-width="0.5" stroke-linejoin="miter"/>
<line x1="156.3" y1="398.6" x2="265.0" y2="398.6" stroke="#262626" stroke-width="1.25"/>
<path d="M314.6 398.6 L315.5 396.4 L316.4 394.3 L317.3 391.1 L318.2 388.2 L319.1 384.7 L320.0 381.2 L320.9 377.2 L321.8 373.2 L322.7 366.3 L323.6 360.8 L324.5 354.4 L325.4 350.4 L326.3 352.6 L327.2 359.1 L328.1 363.1 L329.0 365.1 L329.9 367.2 L330.8 368.9 L331.7 370.8 L332.6 371.7 L333.5 375.7 L334.4 380.0 L335.3 384.1 L336.2 386.1 L337.1 387.7 L338.0 389.0 L338.9 390.3 L339.8 391.1 L340.7 391.9 L341.6 392.6 L342.5 393.2 L343.4 394.0 L344.3 394.5 L345.2 394.9 L346.1 395.5 L347.0 396.0 L347.9 396.6 L348.8 397.0 L349.7 397.6 L350.6 398.1 L351.5 398.6 L351.5 398.6 Z" fill="#bdbdbd" stroke="#808080" stroke-width="1" stroke-linejoin="round"/>
<path d="M306.0 398.6 L306.9 398.5 L307.8 398.5 L308.7 398.4 L309.6 398.4 L310.5 398.3 L311.4 398.2 L312.3 398.1 L313.2 398.0 L314.1 397.8 L315.0 397.7 L315.9 397.4 L316.8 396.9 L317.7 396.5 L318.6 395.7 L319.5 394.1 L320.4 392.2 L321.3 390.3 L322.2 388.1 L323.1 385.7 L324.0 383.0 L324.9 380.3 L325.8 377.8 L326.7 375.2 L327.6 372.0 L328.5 369.8 L329.4 366.4 L330.3 363.0 L331.2 359.2 L332.1 355.1 L333.0 350.9 L333.9 350.0 L334.8 353.9 L335.7 357.7 L336.6 362.4 L337.5 366.8 L338.4 370.8 L339.3 375.9 L340.2 381.3 L341.1 386.4 L342.0 390.3 L342.9 393.2 L343.8 395.4 L344.7 396.6 L345.6 397.3 L346.5 397.8 L347.4 398.1 L348.3 398.2 L349.2 398.3 L350.1 398.5 L351.0 398.6 L351.0 398.6" fill="none" stroke="#121212" stroke-width="1.7" stroke-linejoin="round"/>
<line x1="288.0" y1="398.6" x2="388.8" y2="398.6" stroke="#262626" stroke-width="1.25"/>
<line x1="290.8" y1="341.5" x2="306.0" y2="341.5" stroke="#7e7e7e" stroke-width="2.2"/>
<path d="M430.0 398.6 L430.8 398.6 L430.8 398.5 L431.6 398.5 L431.6 398.4 L432.4 398.4 L432.4 398.3 L433.2 398.3 L433.2 398.2 L434.0 398.2 L434.0 398.0 L434.8 398.0 L434.8 397.8 L435.6 397.8 L435.6 397.7 L436.4 397.7 L436.4 397.6 L437.2 397.6 L437.2 397.4 L438.0 397.4 L438.0 397.2 L438.8 397.2 L438.8 396.9 L439.6 396.9 L439.6 396.6 L440.4 396.6 L440.4 396.3 L441.2 396.3 L441.2 396.1 L442.0 396.1 L442.0 395.7 L442.8 395.7 L442.8 395.1 L443.6 395.1 L443.6 394.6 L444.4 394.6 L444.4 394.0 L445.2 394.0 L445.2 392.8 L446.0 392.8 L446.0 391.5 L446.8 391.5 L446.8 389.6 L447.6 389.6 L447.6 389.2 L448.4 389.2 L448.4 389.2 L449.2 389.2 L449.2 389.1 L450.0 389.1 L450.0 388.1 L450.8 388.1 L450.8 387.2 L451.6 387.2 L451.6 386.2 L452.4 386.2 L452.4 385.2 L453.2 385.2 L453.2 385.0 L454.0 385.0 L454.0 384.5 L454.8 384.5 L454.8 384.2 L455.6 384.2 L455.6 384.5 L456.4 384.5 L456.4 385.0 L457.2 385.0 L457.2 385.7 L458.0 385.7 L458.0 387.2 L458.8 387.2 L458.8 388.3 L459.6 388.3 L459.6 388.8 L460.4 388.8 L460.4 387.2 L461.2 387.2 L461.2 386.0 L462.0 386.0 L462.0 384.6 L462.8 384.6 L462.8 383.4 L463.6 383.4 L463.6 382.6 L464.4 382.6 L464.4 383.2 L465.2 383.2 L465.2 383.7 L466.0 383.7 L466.0 385.2 L466.8 385.2 L466.8 386.9 L467.6 386.9 L467.6 386.9 L468.4 386.9 L468.4 385.4 L469.2 385.4 L469.2 384.3 L470.0 384.3 L470.0 383.4 L470.8 383.4 L470.8 382.9 L471.6 382.9 L471.6 383.3 L472.4 383.3 L472.4 384.3 L473.2 384.3 L473.2 386.5 L474.0 386.5 L474.0 388.1 L474.8 388.1 L474.8 387.3 L475.6 387.3 L475.6 386.6 L476.4 386.6 L476.4 386.1 L477.2 386.1 L477.2 385.7 L478.0 385.7 L478.0 384.9 L478.8 384.9 L478.8 383.6 L479.6 383.6 L479.6 383.6 L480.4 383.6 L480.4 384.2 L481.2 384.2 L481.2 384.3 L482.0 384.3 L482.0 385.1 L482.8 385.1 L482.8 385.6 L483.6 385.6 L483.6 384.1 L484.4 384.1 L484.4 380.6 L485.2 380.6 L485.2 375.4 L486.0 375.4 L486.0 369.1 L486.8 369.1 L486.8 361.7 L487.6 361.7 L487.6 356.0 L488.4 356.0 L488.4 353.5 L489.2 353.5 L489.2 356.3 L490.0 356.3 L490.0 359.9 L490.8 359.9 L490.8 365.0 L491.6 365.0 L491.6 371.4 L492.4 371.4 L492.4 377.0 L493.2 377.0 L493.2 382.0 L494.0 382.0 L494.0 386.2 L494.8 386.2 L494.8 389.3 L495.6 389.3 L495.6 390.8 L496.4 390.8 L496.4 392.2 L497.2 392.2 L497.2 393.6 L498.0 393.6 L498.0 394.9 L498.8 394.9 L498.8 396.1 L499.6 396.1 L499.6 396.9 L500.4 396.9 L500.4 397.7 L501.2 397.7 L501.2 398.1 L502.0 398.1 L502.0 398.2 L502.8 398.2 L502.8 398.2 L503.6 398.2 L503.6 398.3 L504.4 398.3 L504.4 398.3 L505.2 398.3 L505.2 398.4 L506.0 398.4 L506.0 398.4 L506.8 398.4 L506.8 398.5 L507.6 398.5 L507.6 398.5 L508.4 398.5 L509.0 398.6 Z" fill="#1a1a1a" stroke="#1a1a1a" stroke-width="0.5" stroke-linejoin="miter"/>
<line x1="402.0" y1="398.6" x2="511.6" y2="398.6" stroke="#262626" stroke-width="1.25"/>
</g>
<g>
<text transform="translate(138.80 13.70) scale(1 1.03)" font-size="15.3" text-anchor="start" fill="#1c1c1c" stroke="#1c1c1c" stroke-width="0.3">CD27+</text>
<line x1="137.2" y1="17.3" x2="186.6" y2="17.3" stroke="#262626" stroke-width="1.6"/>
<text transform="translate(393.30 13.10) scale(1 1.03)" font-size="15.3" text-anchor="start" fill="#1c1c1c" stroke="#1c1c1c" stroke-width="0.3">CD27-</text>
<line x1="390.2" y1="16.9" x2="439.8" y2="16.9" stroke="#262626" stroke-width="1.7"/>
<text transform="translate(76.60 40.10) scale(1 1.0)" font-size="11.7" text-anchor="start" fill="#1c1c1c" stroke="#1c1c1c" stroke-width="0.35">TLR-9</text>
<text transform="translate(227.20 40.30) scale(1 1.0)" font-size="11.7" text-anchor="start" fill="#1c1c1c" stroke="#1c1c1c" stroke-width="0.35">CFSE</text>
<text transform="translate(317.20 40.10) scale(1 1.0)" font-size="11.7" text-anchor="start" fill="#1c1c1c" stroke="#1c1c1c" stroke-width="0.35">TLR-9</text>
<text transform="translate(475.00 40.30) scale(1 1.0)" font-size="11.7" text-anchor="start" fill="#1c1c1c" stroke="#1c1c1c" stroke-width="0.35">CFSE</text>
<text transform="translate(3.10 81.20) scale(1 0.98)" font-size="15.4" text-anchor="start" fill="#1c1c1c" stroke="#1c1c1c" stroke-width="0.35">24 h</text>
<text transform="translate(3.10 181.60) scale(1 0.98)" font-size="15.4" text-anchor="start" fill="#1c1c1c" stroke="#1c1c1c" stroke-width="0.35">48</text>
<text transform="translate(3.20 283.50) scale(1 0.98)" font-size="15.4" text-anchor="start" fill="#1c1c1c" stroke="#1c1c1c" stroke-width="0.35">72</text>
<text transform="translate(3.10 386.00) scale(1 0.98)" font-size="15.4" text-anchor="start" fill="#1c1c1c" stroke="#1c1c1c" stroke-width="0.35">96</text>
<text transform="translate(35.20 414.9) scale(1 1.13)" font-size="8.3" fill="#242424" stroke="#242424" stroke-width="0.2">10<tspan font-size="5.3" dy="-3.0" dx="-0.2">0</tspan></text>
<text transform="translate(60.90 414.9) scale(1 1.13)" font-size="8.3" fill="#242424" stroke="#242424" stroke-width="0.2">10<tspan font-size="5.3" dy="-3.0" dx="-0.2">1</tspan></text>
<text transform="translate(85.30 414.9) scale(1 1.13)" font-size="8.3" fill="#242424" stroke="#242424" stroke-width="0.2">10<tspan font-size="5.3" dy="-3.0" dx="-0.2">2</tspan></text>
<text transform="translate(110.20 414.9) scale(1 1.13)" font-size="8.3" fill="#242424" stroke="#242424" stroke-width="0.2">10<tspan font-size="5.3" dy="-3.0" dx="-0.2">3</tspan></text>
<text transform="translate(135.00 414.9) scale(1 1.13)" font-size="8.3" fill="#242424" stroke="#242424" stroke-width="0.2">10<tspan font-size="5.3" dy="-3.0" dx="-0.2">4</tspan></text>
<text transform="translate(157.30 414.9) scale(1 1.13)" font-size="8.3" fill="#242424" stroke="#242424" stroke-width="0.2">10<tspan font-size="5.3" dy="-3.0" dx="-0.2">0</tspan></text>
<text transform="translate(182.60 414.9) scale(1 1.13)" font-size="8.3" fill="#242424" stroke="#242424" stroke-width="0.2">10<tspan font-size="5.3" dy="-3.0" dx="-0.2">1</tspan></text>
<text transform="translate(207.50 414.9) scale(1 1.13)" font-size="8.3" fill="#242424" stroke="#242424" stroke-width="0.2">10<tspan font-size="5.3" dy="-3.0" dx="-0.2">2</tspan></text>
<text transform="translate(232.40 414.9) scale(1 1.13)" font-size="8.3" fill="#242424" stroke="#242424" stroke-width="0.2">10<tspan font-size="5.3" dy="-3.0" dx="-0.2">3</tspan></text>
<text transform="translate(257.00 414.9) scale(1 1.13)" font-size="8.3" fill="#242424" stroke="#242424" stroke-width="0.2">10<tspan font-size="5.3" dy="-3.0" dx="-0.2">4</tspan></text>
<text transform="translate(284.80 414.9) scale(1 1.13)" font-size="8.3" fill="#242424" stroke="#242424" stroke-width="0.2">10<tspan font-size="5.3" dy="-3.0" dx="-0.2">0</tspan></text>
<text transform="translate(309.80 414.9) scale(1 1.13)" font-size="8.3" fill="#242424" stroke="#242424" stroke-width="0.2">10<tspan font-size="5.3" dy="-3.0" dx="-0.2">1</tspan></text>
<text transform="translate(334.40 414.9) scale(1 1.13)" font-size="8.3" fill="#242424" stroke="#242424" stroke-width="0.2">10<tspan font-size="5.3" dy="-3.0" dx="-0.2">2</tspan></text>
<text transform="translate(359.20 414.9) scale(1 1.13)" font-size="8.3" fill="#242424" stroke="#242424" stroke-width="0.2">10<tspan font-size="5.3" dy="-3.0" dx="-0.2">3</tspan></text>
<text transform="translate(383.60 414.9) scale(1 1.13)" font-size="8.3" fill="#242424" stroke="#242424" stroke-width="0.2">10<tspan font-size="5.3" dy="-3.0" dx="-0.2">4</tspan></text>
<text transform="translate(407.20 414.9) scale(1 1.13)" font-size="8.3" fill="#242424" stroke="#242424" stroke-width="0.2">10<tspan font-size="5.3" dy="-3.0" dx="-0.2">0</tspan></text>
<text transform="translate(431.80 414.9) scale(1 1.13)" font-size="8.3" fill="#242424" stroke="#242424" stroke-width="0.2">10<tspan font-size="5.3" dy="-3.0" dx="-0.2">1</tspan></text>
<text transform="translate(456.20 414.9) scale(1 1.13)" font-size="8.3" fill="#242424" stroke="#242424" stroke-width="0.2">10<tspan font-size="5.3" dy="-3.0" dx="-0.2">2</tspan></text>
<text transform="translate(481.00 414.9) scale(1 1.13)" font-size="8.3" fill="#242424" stroke="#242424" stroke-width="0.2">10<tspan font-size="5.3" dy="-3.0" dx="-0.2">3</tspan></text>
<text transform="translate(506.00 414.9) scale(1 1.13)" font-size="8.3" fill="#242424" stroke="#242424" stroke-width="0.2">10<tspan font-size="5.3" dy="-3.0" dx="-0.2">4</tspan></text>
<line x1="40.2" y1="427" x2="136.5" y2="427" stroke="#1c1c1c" stroke-width="1.4"/>
<path d="M144.8 427 L134.3 423.8 L135.7 427 L134.3 430.2 Z" fill="#161616"/>
<line x1="162.3" y1="427" x2="258.3" y2="427" stroke="#1c1c1c" stroke-width="1.4"/>
<path d="M266.6 427 L256.1 423.8 L257.5 427 L256.1 430.2 Z" fill="#161616"/>
<line x1="289.5" y1="427" x2="384.6" y2="427" stroke="#1c1c1c" stroke-width="1.4"/>
<path d="M392.9 427 L382.4 423.8 L383.8 427 L382.4 430.2 Z" fill="#161616"/>
<line x1="411.3" y1="427" x2="507.0" y2="427" stroke="#1c1c1c" stroke-width="1.4"/>
<path d="M515.3 427 L504.8 423.8 L506.2 427 L504.8 430.2 Z" fill="#161616"/>
<text transform="translate(41.20 441.20) scale(1 1.0)" font-size="11.7" text-anchor="start" fill="#1c1c1c" stroke="#1c1c1c" stroke-width="0.35">TLR-9</text>
<text transform="translate(162.00 441.40) scale(1 1.0)" font-size="11.7" text-anchor="start" fill="#1c1c1c" stroke="#1c1c1c" stroke-width="0.35">CFSE</text>
<text transform="translate(288.20 441.20) scale(1 1.0)" font-size="11.7" text-anchor="start" fill="#1c1c1c" stroke="#1c1c1c" stroke-width="0.35">TLR-9</text>
<text transform="translate(412.40 441.40) scale(1 1.0)" font-size="11.7" text-anchor="start" fill="#1c1c1c" stroke="#1c1c1c" stroke-width="0.35">CFSE</text>
</g>
</g>
</svg>
</body></html>
